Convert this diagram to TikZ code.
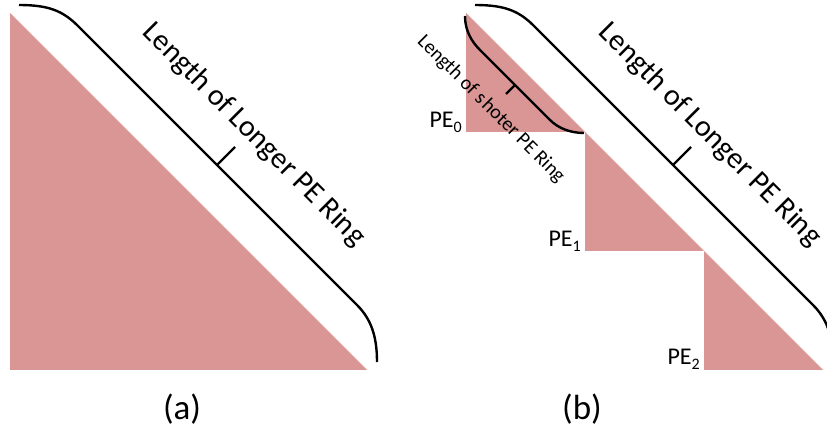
\documentclass[tikz,border=0pt]{standalone}
\usepackage{fontspec}
\setmainfont{Carlito}
\usepackage{xcolor}
\usepackage{tikz}
\definecolor{pepink}{HTML}{D99694}
\tikzset{
  petri/.style={fill=pepink, draw=none},
  ringbrace/.style={line width=2.4pt, black},
  longlabel/.style={font=\fontsize{30}{32}\selectfont, rotate=-45, inner sep=0pt},
  shortlabel/.style={font=\fontsize{20}{22}\selectfont, rotate=-45, inner sep=0pt},
  pelabel/.style={font=\fontsize{24}{26}\selectfont, anchor=base east, inner sep=0pt},
  caption/.style={font=\fontsize{35}{37}\selectfont, anchor=base, inner sep=0pt}
}
\newcommand{\pesub}[1]{\raisebox{-5pt}{\fontsize{16}{16}\selectfont #1}}

\begin{document}
\begin{tikzpicture}[x=1pt,y=1pt]
  \useasboundingbox (0,0) rectangle (827,431);

  % (a) one long ring
  \fill[petri] (10,418) -- (10,61) -- (367,61) -- cycle;
  \draw[ringbrace] (19,426) .. controls (49,426) and (63,420) .. (78,405)
    -- (357,126) .. controls (371,112) and (377,95) .. (377,69);
  \draw[ringbrace] (217,266) -- (235,284);
  \node[longlabel] (ringa) at (254,296) {Length of Longer PE Ring};
  \node[caption] (capa) at (182,12) {(a)};

  % (b) three shorter rings
  \fill[petri] (466,418) -- (466,299) -- (585,299) -- cycle;
  \fill[petri] (585,299) -- (585,180) -- (704,180) -- cycle;
  \fill[petri] (704,180) -- (704,61) -- (823,61) -- cycle;

  \draw[ringbrace] (475,426) .. controls (505,426) and (519,420) .. (534,405)
    -- (813,126) .. controls (827,112) and (833,95) .. (833,69);
  \draw[ringbrace] (673,266) -- (691,284);
  \node[longlabel] (ringb) at (710,296) {Length of Longer PE Ring};

  \draw[ringbrace] (465,415) .. controls (465,400) and (472,389) .. (480,381)
    -- (550,311) .. controls (558,303) and (570,298) .. (584,298);
  \draw[ringbrace] (515,346) -- (506,337);
  \node[shortlabel] (ringpe) at (491,322) {Length of s\kern2pt hoter PE Ring};

  \node[pelabel] (pe0) at (462,303) {PE\pesub{0}};
  \node[pelabel] (pe1) at (581,184) {PE\pesub{1}};
  \node[pelabel] (pe2) at (700,66) {PE\pesub{2}};

  \node[caption] (capb) at (582,12) {(b)};
\end{tikzpicture}
\end{document}
